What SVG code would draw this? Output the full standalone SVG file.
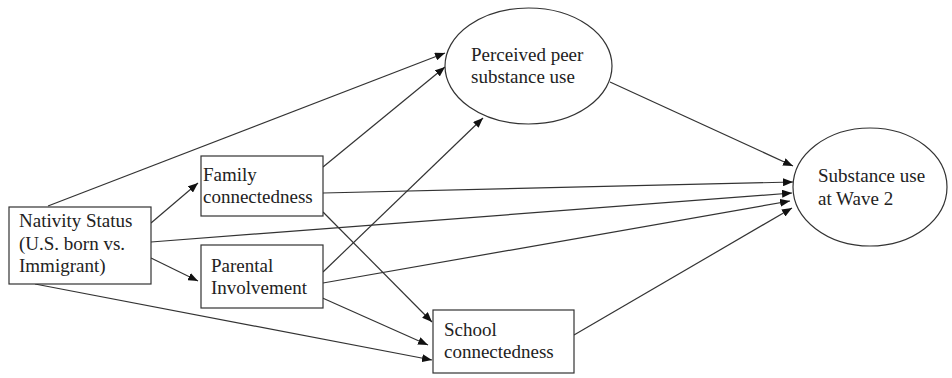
<svg xmlns="http://www.w3.org/2000/svg" width="952" height="378" viewBox="0 0 952 378">
<style>
.box{fill:#fff;stroke:#333;stroke-width:1.2}
.lbl{font-family:"Liberation Serif","Times New Roman",serif;font-size:19px;fill:#222}
.edge{stroke:#333;stroke-width:1.2;fill:none;marker-end:url(#ah)}
</style>
<defs>
<marker id="ah" markerUnits="userSpaceOnUse" markerWidth="10" markerHeight="8" refX="10" refY="4" orient="auto">
<path d="M0,0 L10,4 L0,8 z" fill="#111"/>
</marker>
</defs>
<rect width="952" height="378" fill="#fff"/>
<g id="connectors">
<line class="edge" x1="48" y1="206" x2="445" y2="53"/>
<line class="edge" x1="323" y1="167" x2="445" y2="67"/>
<line class="edge" x1="323" y1="272" x2="483" y2="118"/>
<line class="edge" x1="151" y1="223" x2="198" y2="183"/>
<line class="edge" x1="151" y1="258" x2="198" y2="281"/>
<line class="edge" x1="35" y1="284" x2="432" y2="360"/>
<line class="edge" x1="318" y1="296" x2="428" y2="345"/>
<line class="edge" x1="323" y1="212" x2="432" y2="322"/>
<line class="edge" x1="323" y1="193" x2="793" y2="182"/>
<line class="edge" x1="151" y1="242" x2="792" y2="193"/>
<line class="edge" x1="323" y1="283" x2="790" y2="201"/>
<line class="edge" x1="610" y1="82" x2="793" y2="166"/>
<line class="edge" x1="574" y1="335" x2="792" y2="208"/>
</g>
<g id="nativity">
<rect class="box" x="9" y="207" width="142" height="77"/>
<text class="lbl" x="19" y="227">Nativity Status</text>
<text class="lbl" x="19" y="250">(U.S. born vs.</text>
<text class="lbl" x="19" y="272">Immigrant)</text>
</g>
<g id="family">
<rect class="box" x="201" y="156" width="122" height="60"/>
<text class="lbl" x="203" y="181">Family</text>
<text class="lbl" x="203" y="203">connectedness</text>
</g>
<g id="parental">
<rect class="box" x="201" y="245" width="122" height="63"/>
<text class="lbl" x="211" y="272">Parental</text>
<text class="lbl" x="211" y="294">Involvement</text>
</g>
<g id="school">
<rect class="box" x="433" y="310" width="141" height="63"/>
<text class="lbl" x="444" y="336">School</text>
<text class="lbl" x="444" y="358">connectedness</text>
</g>
<g id="peer">
<ellipse class="box" cx="528.5" cy="66" rx="83.5" ry="58"/>
<text class="lbl" x="471" y="61">Perceived peer</text>
<text class="lbl" x="471" y="83">substance use</text>
</g>
<g id="substance">
<ellipse class="box" cx="870" cy="187" rx="77" ry="59"/>
<text class="lbl" x="818" y="182">Substance use</text>
<text class="lbl" x="818" y="205">at Wave 2</text>
</g>
</svg>
